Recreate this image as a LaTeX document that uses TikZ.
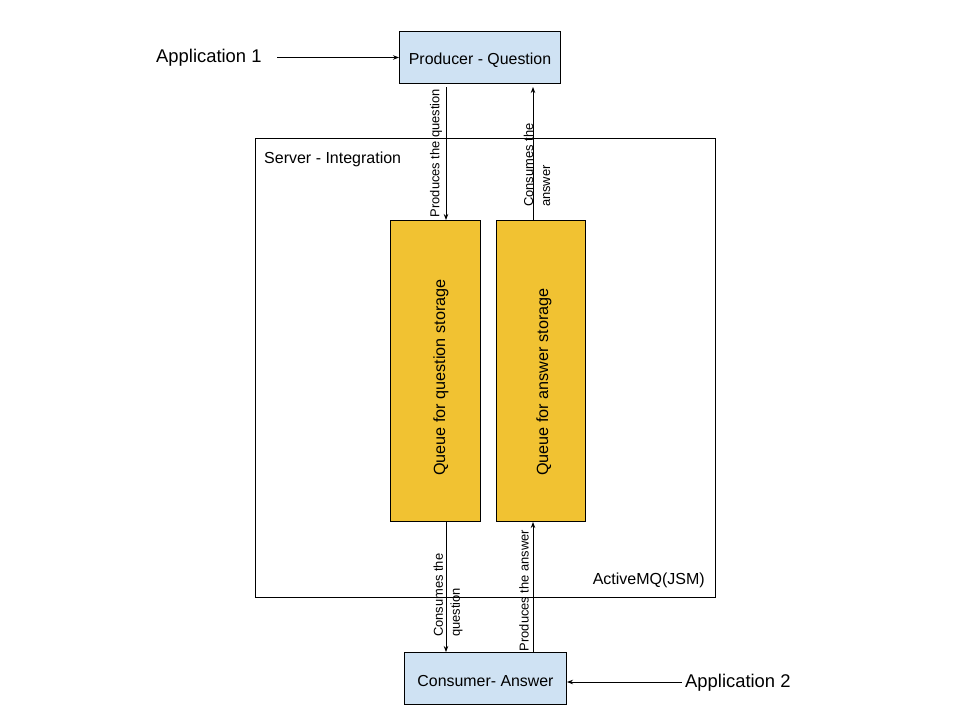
\documentclass[tikz,border=0pt]{standalone}
\usepackage{fontspec}
\setmainfont{Liberation Sans}
\usetikzlibrary{arrows.meta}
\definecolor{boxblue}{HTML}{CFE2F3}
\definecolor{qyellow}{HTML}{F1C232}
\begin{document}
\begin{tikzpicture}[x=1pt,y=-1pt,
  bluebox/.style={draw=black,fill=boxblue,line width=1pt,inner sep=0pt},
  boxtext/.style={font=\fontsize{15.9}{18}\selectfont,inner sep=0pt},
  queuebox/.style={draw=black,fill=qyellow,line width=1pt,inner sep=0pt},
  conn/.style={draw=black,line width=0.8pt,-{Stealth[length=6pt,width=4.5pt]}},
  lbl/.style={font=\fontsize{12.9}{17}\selectfont,rotate=90,inner sep=0pt,align=left},
  qtext/.style={font=\fontsize{16.2}{18}\selectfont,rotate=90,inner sep=0pt},
  plain/.style={font=\fontsize{16}{18}\selectfont,inner sep=0pt}]
\useasboundingbox (0,0) rectangle (960,720);
% server
\node[draw=black,line width=0.8pt,minimum width=460pt,minimum height=459pt,anchor=north west,inner sep=0pt] (srv) at (255,138) {};
\node[plain,anchor=base west] (srvlbl) at (264,163) {Server - Integration};
\node[plain,anchor=base east] (amq) at (705,584) {ActiveMQ(JSM)};
% producer / consumer
\node[bluebox,minimum width=161pt,minimum height=52pt,anchor=north west] (prod) at (399,31) {};
\node[boxtext] (prodt) at ([yshift=-2.5pt]prod.center) {Producer - Question};
\node[bluebox,minimum width=162pt,minimum height=52pt,anchor=north west] (cons) at (404,652) {};
\node[boxtext] (const) at ([yshift=-3pt]cons.center) {Consumer- Answer};
% queues
\node[queuebox,minimum width=90pt,minimum height=301pt,anchor=north west] (q1) at (390,220) {};
\node[queuebox,minimum width=89pt,minimum height=301pt,anchor=north west] (q2) at (496,220) {};
\node[qtext,anchor=west] (q1t) at (441,476) {Queue for question storage};
\node[qtext,anchor=west] (q2t) at (544,476) {Queue for answer storage};
% applications
\node[anchor=base west,font=\fontsize{18.4}{21}\selectfont,inner sep=0pt] (app1) at (156,62) {Application 1};
\node[anchor=base west,font=\fontsize{18.4}{21}\selectfont,inner sep=0pt] (app2) at (685,687) {Application 2};
\coordinate (a1s) at (277,57.5);
\coordinate (a2s) at (682,682);
\draw[conn] (a1s) -- (prod.west |- a1s);
\draw[conn] (a2s) -- (cons.east |- a2s);
% connectors
\coordinate (p1) at (446,87);
\coordinate (p2) at (533,87);
\draw[conn] (p1) -- (p1 |- q1.north);
\draw[conn] (p2 |- q2.north) -- (p2);
\draw[conn] (p1 |- q1.south) -- (p1 |- cons.north);
\draw[conn] (p2 |- cons.north) -- (p2 |- q2.south);
% labels
\node[lbl,anchor=center] (l1) at (436,153) {Produces the question};
\node[lbl,anchor=west] (l2) at (537,207) {Consumes the\\answer};
\node[lbl,anchor=west] (l3) at (448,637) {Consumes the\\question};
\node[lbl,anchor=center] (l4) at (524,590.5) {Produces the answer};
\end{tikzpicture}
\end{document}
